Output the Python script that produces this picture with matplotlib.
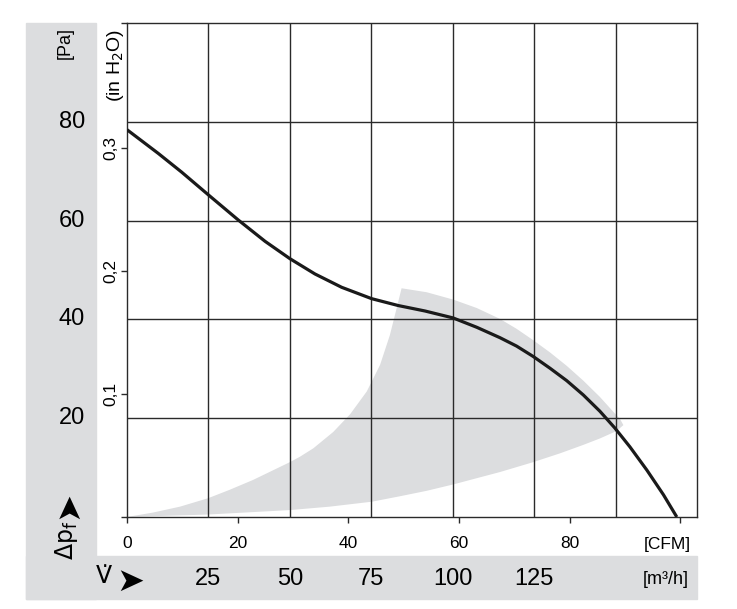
import matplotlib
matplotlib.use("Agg")
import matplotlib.pyplot as plt
from matplotlib.patches import Rectangle, Polygon
from matplotlib.transforms import blended_transform_factory

plt.rcParams['font.family'] = ['Liberation Sans', 'DejaVu Sans']

# fan curve, flow in m3/h, pressure in Pa
flow = [0, 9.6, 16.8, 25.0, 34.2, 42.4, 50.0, 57.7, 65.9, 75.1, 83.3, 91.5,
        100.1, 107.4, 114.5, 119.6, 124.7, 129.9, 135.0, 140.1, 145.2, 149.8,
        154.4, 159.6, 164.7, 168.8]
pressure = [78.4, 73.6, 69.8, 65.2, 60.1, 55.8, 52.3, 49.2, 46.5, 44.2, 42.8, 41.7,
            40.3, 38.4, 36.3, 34.6, 32.5, 30.1, 27.6, 24.7, 21.4, 18.0,
            14.2, 9.5, 4.5, 0.0]

# grey operating range (outline)
zone_flow = [0, 8.0, 16.3, 24.9, 31.5, 38.7, 50.0, 53.1, 57.2, 63.3, 68.5, 73.6,
             77.7, 80.7, 82.8, 84.3,
             92.0, 100.2, 107.4, 114.5, 119.6, 124.7, 129.9, 135.0, 140.1, 145.2,
             149.3, 151.4, 152.4,
             150.3, 145.2, 140.1, 133.0, 124.7, 114.5, 100.2, 92.0, 83.8, 75.2,
             62.3, 50.0, 24.9]
zone_press = [0, 0.9, 2.1, 3.8, 5.5, 7.5, 11.1, 12.2, 13.9, 17.2, 20.8, 25.4,
              30.8, 36.8, 42.3, 46.3,
              45.5, 44.0, 42.3, 40.1, 38.1, 35.8, 33.3, 30.6, 27.6, 24.3,
              21.3, 19.8, 18.6,
              17.4, 15.9, 14.6, 12.9, 11.1, 9.1, 6.6, 5.3, 4.2, 3.1,
              2.1, 1.4, 0.5]

m3h_ticks = [25, 50, 75, 100, 125]
pa_ticks = [20, 40, 60, 80]
cfm_ticks = [0, 20, 40, 60, 80]
inh2o_ticks = [0.1, 0.2, 0.3]

CFM = 1.699      # m3/h per CFM
INH2O = 249.09   # Pa per inch H2O

W, H = 737, 609
fig = plt.figure(figsize=(W / 100, H / 100), dpi=100)
ax = fig.add_axes([127 / W, 1 - 517 / H, 570 / W, 494 / H])

grey = '#dcdddf'
line = '#2a2a2a'
fig.patches.append(Rectangle((26 / W, 1 - 599 / H), 70 / W, 576 / H,
                             transform=fig.transFigure, color=grey, zorder=0))
fig.patches.append(Rectangle((26 / W, 1 - 599 / H), 671 / W, 43 / H,
                             transform=fig.transFigure, color=grey, zorder=0))

ax.set_xlim(0, 175)
ax.set_ylim(0, 100)

ax.add_patch(Polygon(list(zip(zone_flow, zone_press)), closed=True,
                     facecolor=grey, edgecolor='none', zorder=1))
for v in m3h_ticks + [150]:
    ax.axvline(v, color=line, lw=1.0, zorder=2)
for p in pa_ticks:
    ax.axhline(p, color=line, lw=1.0, zorder=2)
ax.plot(flow, pressure, color='#1a1a1a', lw=2.3, zorder=3,
        solid_joinstyle='round', solid_capstyle='butt')

for s in ax.spines.values():
    s.set_color(line)
    s.set_linewidth(1.0)

# bottom: CFM scale
ax.set_xticks([c * CFM for c in cfm_ticks] + [100 * CFM])
ax.set_xticklabels([str(c) for c in cfm_ticks] + [''], fontsize=12.5)
ax.tick_params(axis='x', direction='out', length=4, width=1, color=line,
               pad=10)
ax.text(165.8, -5.6, '[CFM]', ha='center', va='center', fontsize=12.5)

# left: inch H2O scale
ax.set_yticks([0] + [t * INH2O for t in inh2o_ticks] + [100])
ax.set_yticklabels([''] + [str(t).replace('.', ',') for t in inh2o_ticks] + [''],
                   fontsize=12.5, rotation=90, va='center')
ax.tick_params(axis='y', direction='out', length=4, width=1, color=line, pad=2)
ax.text(-3.6, 91.5, '(in H$_2$O)', rotation=90, ha='center', va='center',
        fontsize=14)

# Pa labels in grey strip
ty = blended_transform_factory(fig.transFigure, ax.transData)
for p in pa_ticks:
    fig.text(72 / W, p, str(p), transform=ty, ha='center', va='center',
             fontsize=17)
fig.text(65 / W, 1 - 43 / H, '[Pa]', rotation=90, ha='center', va='center',
         fontsize=13)
fig.text(67 / W, 1 - 540 / H, '\u0394p$_\\mathregular{f}$', rotation=90,
         ha='center', va='center', fontsize=17, family=['DejaVu Sans'])
fig.text(68 / W, 1 - 505 / H, '\u27a4', rotation=90, ha='center', va='center',
         fontsize=24, family=['DejaVu Sans'])

# m3/h labels in bottom strip
tx = blended_transform_factory(ax.transData, fig.transFigure)
for v in m3h_ticks:
    fig.text(v, 1 - 579 / H, str(v), transform=tx, ha='center', va='center',
             fontsize=17)
fig.text(666 / W, 1 - 579 / H, '[m\u00b3/h]', ha='center', va='center',
         fontsize=13)
fig.text(104 / W, 1 - 576 / H, 'V\u0307', ha='center', va='center',
         fontsize=17, family=['DejaVu Sans'])
fig.text(130 / W, 1 - 581 / H, '\u27a4', ha='center', va='center',
         fontsize=24, family=['DejaVu Sans'])

fig.savefig('out.png', dpi=100)
